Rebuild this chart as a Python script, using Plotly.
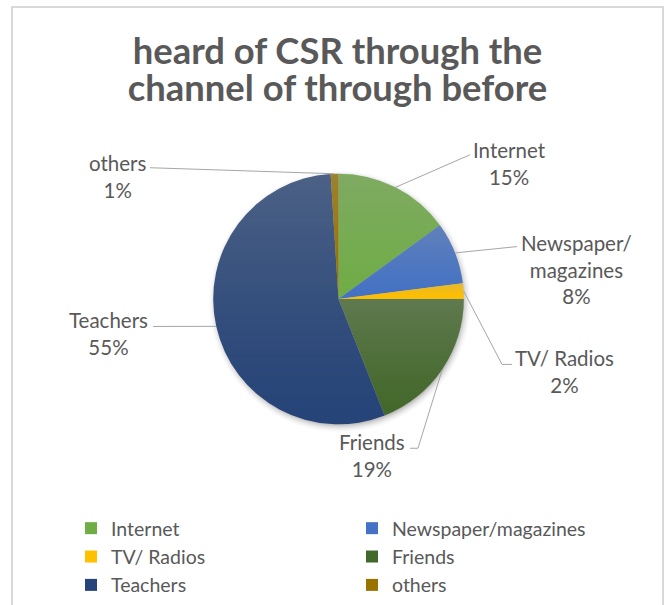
import base64
import math
import struct
import zlib

import numpy as np
import plotly.graph_objects as go

# ---- data -------------------------------------------------------------
channels = ["Internet", "Newspaper/magazines", "TV/ Radios", "Friends", "Teachers", "others"]
label_text = ["Internet", "Newspaper/<br>magazines", "TV/ Radios", "Friends", "Teachers", "others"]
shares = [15, 8, 2, 19, 55, 1]
colors = ["#70AD47", "#4472C4", "#FFC000", "#43682B", "#264478", "#997300"]
title_lines = ["heard of CSR through the", "channel of through before"]

# ---- canvas / geometry (pixels) --------------------------------------
W, H = 665, 605
CX, CY, R = 338.5, 299.5, 125.5
TEXT = "#595959"
LEADER = "#A6A6A6"
FONT = "Lato"
TITLE_GLYPH = 36.4      # glyph size of the heading
TITLE_LINE = 28.5       # base size that sets the heading's line pitch (1.3 em)

# label block centres and leader-line elbows, per slice
label_pos = {
    "Internet": (509, 164),
    "Newspaper/magazines": (576, 270),
    "TV/ Radios": (564, 372),
    "Friends": (372, 456),
    "Teachers": (108, 334),
    "others": (117, 177),
}
leader_pts = {
    "Internet": [(470, 155)],
    "Newspaper/magazines": [(517, 247)],
    "TV/ Radios": [(502, 365), (512, 365)],
    "Friends": [(418, 449), (410, 449)],
    "Teachers": [(153, 327)],
    "others": [(150, 168)],
}


def px(x):
    return x / W


def py(y):
    return 1 - y / H


def png_uri(rgba):
    h, w, _ = rgba.shape
    raw = b"".join(b"\x00" + rgba[r].tobytes() for r in range(h))

    def chunk(tag, data):
        c = tag + data
        return struct.pack(">I", len(data)) + c + struct.pack(">I", zlib.crc32(c) & 0xFFFFFFFF)

    png = b"\x89PNG\r\n\x1a\n"
    png += chunk(b"IHDR", struct.pack(">IIBBBBB", w, h, 8, 6, 0, 0, 0))
    png += chunk(b"IDAT", zlib.compress(raw, 9))
    png += chunk(b"IEND", b"")
    return "data:image/png;base64," + base64.b64encode(png).decode()


# slice boundaries (clockwise from 12 o'clock, in fractions of a turn)
total = float(sum(shares))
bounds = np.cumsum([0] + shares) / total
mids = [(bounds[i] + bounds[i + 1]) / 2 for i in range(len(shares))]

# ---- soft gradient overlay on each slice -----------------------------
pad = 2
size = int(2 * R) + 2 * pad
ox, oy = CX - R - pad, CY - R - pad
yy, xx = np.mgrid[0:size, 0:size].astype(float)
gx, gy = xx + 0.5 + ox, yy + 0.5 + oy
dist = np.hypot(gx - CX, gy - CY)
cover = np.clip(R - dist + 0.5, 0, 1)
ang = (np.degrees(np.arctan2(gx - CX, -(gy - CY))) % 360) / 360.0
slice_idx = np.clip(np.searchsorted(bounds, ang, side="right") - 1, 0, len(shares) - 1)
alpha = np.zeros_like(dist)
inside = cover > 0
for i in range(len(shares)):
    m = inside & (slice_idx == i)
    if not m.any():
        continue
    top, bot = gy[m].min(), gy[m].max()
    t = (gy - top) / max(bot - top, 1)
    alpha[m] = 0.30 * np.clip(1 - t[m], 0, 1) ** 1.2
alpha *= cover
ov = np.zeros((size, size, 4), dtype=np.uint8)
ov[..., 0:3] = 165
ov[..., 3] = (alpha * 255).round().astype(np.uint8)
overlay_uri = png_uri(ov)

# ---- drop shadow under the pie ---------------------------------------
spad = 14
ssize = int(2 * R) + 2 * spad
sx0, sy0 = CX - R - spad, CY - R - spad
yy2, xx2 = np.mgrid[0:ssize, 0:ssize].astype(float)
d2 = np.hypot(xx2 + 0.5 + sx0 - (CX + 1.5), yy2 + 0.5 + sy0 - (CY + 2.5))
sh = np.clip(1 - (d2 - (R - 3)) / 10.0, 0, 1) ** 2 * 0.45
sh_img = np.zeros((ssize, ssize, 4), dtype=np.uint8)
sh_img[..., 0:3] = 90
sh_img[..., 3] = (sh * 255).round().astype(np.uint8)
shadow_uri = png_uri(sh_img)

# ---- figure ----------------------------------------------------------
fig = go.Figure(
    go.Pie(
        labels=channels,
        values=shares,
        sort=False,
        direction="clockwise",
        rotation=0,
        marker=dict(colors=colors, line=dict(width=0)),
        textinfo="none",
        hoverinfo="label+percent",
        domain=dict(x=[px(CX - R), px(CX + R)], y=[py(CY + R), py(CY - R)]),
        showlegend=True,
    )
)

shapes = [
    dict(type="rect", xref="paper", yref="paper",
         x0=px(12), x1=px(663), y0=py(7), y1=py(640),
         line=dict(color="#D9D9D9", width=2), fillcolor="rgba(0,0,0,0)", layer="below"),
]
annotations = []

# outside data labels with leader lines
for i, name in enumerate(channels):
    a = 2 * math.pi * mids[i]
    ex, ey = CX + R * math.sin(a), CY - R * math.cos(a)
    pts = [(ex, ey)] + leader_pts[name]
    path = "M " + " L ".join(f"{px(x):.5f},{py(y):.5f}" for x, y in pts)
    shapes.append(dict(type="path", xref="paper", yref="paper", path=path,
                       line=dict(color=LEADER, width=1)))
    lx, ly = label_pos[name]
    annotations.append(dict(
        xref="paper", yref="paper", x=px(lx), y=py(ly),
        xanchor="center", yanchor="middle", showarrow=False, align="center",
        text=f"{label_text[i]}<br>{round(shares[i] / total * 100)}%",
        font=dict(family=FONT, size=20.5, color=TEXT),
    ))

title_text = "<br>".join(
    f"<span style='font-size:{TITLE_GLYPH}px'>{line}</span>" for line in title_lines
)

fig.update_layout(
    width=W, height=H,
    margin=dict(l=0, r=0, t=0, b=0),
    paper_bgcolor="white",
    plot_bgcolor="white",
    title=dict(
        text=title_text,
        x=px(337.5), xanchor="center", xref="paper",
        y=py(63.5), yanchor="middle", yref="container",
        font=dict(family=FONT, size=TITLE_LINE, color=TEXT, weight="bold"),
    ),
    legend=dict(
        orientation="h",
        x=px(71), y=py(509.5), xanchor="left", yanchor="top",
        entrywidth=236, entrywidthmode="pixels",
        font=dict(family=FONT, size=19.5, color=TEXT),
        bgcolor="rgba(0,0,0,0)",
        itemclick=False, itemdoubleclick=False,
    ),
    shapes=shapes,
    annotations=annotations,
    images=[
        dict(source=shadow_uri, xref="paper", yref="paper",
             x=px(sx0), y=py(sy0), sizex=ssize / W, sizey=ssize / H,
             xanchor="left", yanchor="top", sizing="stretch", layer="below"),
        dict(source=overlay_uri, xref="paper", yref="paper",
             x=px(ox), y=py(oy), sizex=size / W, sizey=size / H,
             xanchor="left", yanchor="top", sizing="stretch", layer="above"),
    ],
)

fig.write_html("out.html")
